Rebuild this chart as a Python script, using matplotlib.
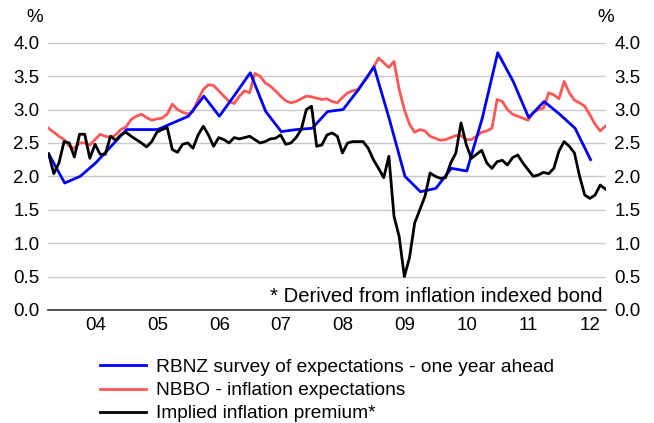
import numpy as np
import matplotlib
matplotlib.use("Agg")
import matplotlib.pyplot as plt

plt.rcParams['font.family'] = ['Liberation Sans', 'DejaVu Sans']

# RBNZ survey, quarterly
rbnz = [2.32, 1.90, 2.00, 2.20, 2.45, 2.70, 2.70, 2.70, 2.80, 2.90,
        3.20, 2.90, 3.22, 3.55, 2.97, 2.67, 2.70, 2.72, 2.97, 3.00,
        3.30, 3.64, 2.85, 2.00, 1.77, 1.82, 2.12, 2.08, 2.87, 3.85,
        3.42, 2.88, 3.12, 2.93, 2.72, 2.25]

# NBBO, monthly
nbbo = [2.72, 2.66, 2.60, 2.55, 2.45, 2.42, 2.50, 2.50, 2.47, 2.55,
        2.63, 2.60, 2.58, 2.62, 2.70, 2.74, 2.85, 2.90, 2.93, 2.88,
        2.84, 2.86, 2.87, 2.93, 3.08, 3.00, 2.96, 2.93, 2.97, 3.15,
        3.30, 3.37, 3.36, 3.28, 3.20, 3.12, 3.09, 3.20, 3.28, 3.25,
        3.54, 3.50, 3.40, 3.35, 3.28, 3.20, 3.13, 3.10, 3.12, 3.16,
        3.20, 3.19, 3.17, 3.15, 3.16, 3.12, 3.10, 3.18, 3.25, 3.28,
        3.30, 3.40, 3.50, 3.63, 3.77, 3.70, 3.63, 3.72, 3.30, 3.00,
        2.78, 2.66, 2.70, 2.68, 2.60, 2.57, 2.54, 2.55, 2.58, 2.61,
        2.61, 2.55, 2.55, 2.60, 2.66, 2.68, 2.72, 3.15, 3.12, 3.00,
        2.93, 2.90, 2.87, 2.84, 2.95, 3.00, 3.02, 3.25, 3.22, 3.16,
        3.42, 3.25, 3.14, 3.10, 3.05, 2.92, 2.78, 2.68, 2.75]

# implied inflation premium, monthly
premium = [2.34, 2.04, 2.20, 2.52, 2.50, 2.29, 2.63, 2.63, 2.27, 2.48,
           2.33, 2.33, 2.60, 2.54, 2.62, 2.66, 2.60, 2.55, 2.50, 2.44,
           2.52, 2.66, 2.70, 2.73, 2.40, 2.36, 2.48, 2.50, 2.42, 2.62,
           2.75, 2.62, 2.45, 2.58, 2.55, 2.50, 2.58, 2.56, 2.58, 2.60,
           2.55, 2.50, 2.52, 2.56, 2.57, 2.62, 2.48, 2.50, 2.58, 2.70,
           3.00, 3.05, 2.45, 2.47, 2.62, 2.65, 2.60, 2.35, 2.50, 2.52,
           2.52, 2.52, 2.42, 2.25, 2.12, 1.98, 2.30, 1.40, 1.10, 0.50,
           0.78, 1.30, 1.50, 1.70, 2.05, 2.00, 1.97, 1.98, 2.20, 2.35,
           2.80, 2.48, 2.27, 2.33, 2.39, 2.20, 2.12, 2.22, 2.24, 2.17,
           2.28, 2.32, 2.20, 2.10, 2.00, 2.02, 2.06, 2.04, 2.12, 2.38,
           2.52, 2.45, 2.35, 2.00, 1.72, 1.67, 1.72, 1.87, 1.81]

years = list(range(2004, 2013))
year_labels = ['04', '05', '06', '07', '08', '09', '10', '11', '12']
yticks = np.arange(0, 4.01, 0.5)

t_month = 2003.24 + np.arange(len(nbbo)) / 12
t_quarter = 2003.25 + 0.25 * np.arange(len(rbnz))

fig = plt.figure(figsize=(6.54, 4.23), dpi=100)
ax = fig.add_axes([48 / 654, 1 - 310 / 423, 558 / 654, 267.3 / 423])

ax.plot(t_quarter, rbnz, color='#0000ff', lw=2, label='RBNZ survey of expectations - one year ahead', zorder=3)
ax.plot(t_month, nbbo, color='#ff5656', lw=2, label='NBBO - inflation expectations', zorder=2)
ax.plot(t_month, premium, color='black', lw=2, label='Implied inflation premium*', zorder=4)

ax.set_xlim(2003.23, 2012.25)
ax.set_ylim(0, 4)
ax.set_yticks(yticks)
ax.set_yticklabels([f'{v:.1f}' for v in yticks])
ax.tick_params(axis='y', length=0, labelsize=13.5, pad=6, labelright=True)
ax.set_xticks(years)
ax.set_xticklabels(year_labels)
ax.tick_params(axis='x', length=0, labelsize=13.5, pad=5)
ax.grid(axis='y', color='#c8c8c8', lw=1)
ax.set_axisbelow(True)
for s in ['left', 'right', 'top']:
    ax.spines[s].set_visible(False)
ax.spines['bottom'].set_color('#333333')
ax.spines['bottom'].set_linewidth(1.2)

fig.text(43 / 654, 1 - 18 / 423, '%', fontsize=13.5, va='center', ha='right')
fig.text(597 / 654, 1 - 18 / 423, '%', fontsize=13.5, va='center', ha='left')
ax.text(0.993, 0.05, '* Derived from inflation indexed bond', transform=ax.transAxes,
        ha='right', va='center', fontsize=14.6)

fig.legend(loc='upper left', bbox_to_anchor=(92 / 654, 1 - 351 / 423), frameon=False,
           fontsize=13.8, handlelength=2.4, handletextpad=0.56, labelspacing=0.3,
           borderaxespad=0, bbox_transform=fig.transFigure)

fig.savefig('out.png', dpi=100)
